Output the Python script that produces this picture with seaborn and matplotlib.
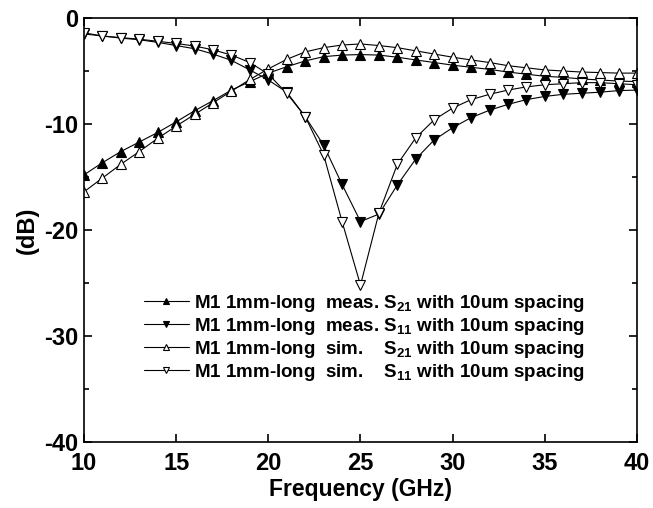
import numpy as np
import pandas as pd
import seaborn as sns
import matplotlib
matplotlib.use("Agg")
import matplotlib.pyplot as plt

# frequency points (GHz), one per GHz
freq = list(range(10, 41))

# measured S21 (dB)
meas_s21 = [-14.8, -13.65, -12.6, -11.7, -10.8, -9.8, -8.75, -7.8, -6.8, -6.0,
            -5.2, -4.6, -4.05, -3.65, -3.5, -3.45, -3.5, -3.7, -3.96, -4.2,
            -4.45, -4.65, -4.85, -5.1, -5.3, -5.5, -5.6, -5.75, -5.85, -5.95, -6.0]
# measured S11 (dB)
meas_s11 = [-1.5, -1.7, -1.9, -2.05, -2.3, -2.6, -2.9, -3.4, -4.0, -4.9,
            -5.85, -7.0, -9.3, -12.0, -15.7, -19.2, -18.5, -15.75, -13.3, -11.5,
            -10.35, -9.4, -8.7, -8.15, -7.7, -7.4, -7.2, -7.1, -7.0, -6.85, -6.8]
# simulated S21 (dB)
sim_s21 = [-16.4, -15.1, -13.8, -12.6, -11.35, -10.2, -9.1, -8.0, -6.9, -5.8,
           -4.8, -3.9, -3.2, -2.8, -2.55, -2.45, -2.6, -2.8, -3.1, -3.4,
           -3.7, -3.96, -4.2, -4.5, -4.7, -4.9, -5.0, -5.1, -5.15, -5.2, -5.2]
# simulated S11 (dB)
sim_s11 = [-1.4, -1.7, -1.85, -2.0, -2.2, -2.4, -2.65, -3.0, -3.5, -4.2,
           -5.3, -7.1, -9.3, -12.9, -19.2, -25.2, -18.4, -13.8, -11.3, -9.6,
           -8.5, -7.7, -7.2, -6.8, -6.5, -6.3, -6.2, -6.1, -6.1, -6.2, -6.3]

labels = [
    r"M1 1mm-long  meas. S$_{21}$ with 10um spacing",
    r"M1 1mm-long  meas. S$_{11}$ with 10um spacing",
    r"M1 1mm-long  sim.    S$_{21}$ with 10um spacing",
    r"M1 1mm-long  sim.    S$_{11}$ with 10um spacing",
]
series = [meas_s21, meas_s11, sim_s21, sim_s11]
markers = ["^", "v", "^", "v"]
faces = ["black", "black", "white", "white"]

sns.set_theme(style="ticks")
plt.rcParams["font.family"] = ["Liberation Sans", "DejaVu Sans"]
plt.rcParams["font.weight"] = "bold"
plt.rcParams["text.color"] = "black"
plt.rcParams["axes.labelcolor"] = "black"
plt.rcParams["axes.unicode_minus"] = False
plt.rcParams["mathtext.fontset"] = "custom"
plt.rcParams["mathtext.rm"] = "Liberation Sans:bold"
plt.rcParams["mathtext.it"] = "Liberation Sans:bold"
plt.rcParams["mathtext.bf"] = "Liberation Sans:bold"

fig = plt.figure(figsize=(6.53, 5.08), dpi=100)
ax = fig.add_axes([0.1286, 0.1299, 0.8469, 0.8347])

for vals, lab, m, fc in zip(series, labels, markers, faces):
    df = pd.DataFrame({"f": freq, "v": vals})
    sns.lineplot(data=df, x="f", y="v", ax=ax, color="black", linewidth=0.8,
                 marker=m, markersize=7.5, markerfacecolor=fc,
                 markeredgecolor="black", markeredgewidth=0.8, label=lab)

ax.set_xlim(10, 40)
ax.set_ylim(-40, 0)
ax.set_xticks([10, 15, 20, 25, 30, 35, 40])
ax.set_yticks([-40, -30, -20, -10, 0])
ax.set_yticks([-35, -25, -15, -5], minor=True)
ax.tick_params(which="both", direction="in", top=True, right=True, width=1.2,
               labelsize=17, colors="black")
ax.tick_params(which="major", length=6)
ax.tick_params(which="minor", length=3.5)
ax.tick_params(axis="x", pad=7)
ax.tick_params(axis="y", pad=4)
for s in ax.spines.values():
    s.set_linewidth(1.2)
    s.set_color("black")
for t in ax.get_xticklabels() + ax.get_yticklabels():
    t.set_fontweight("bold")

ax.set_xlabel("Frequency (GHz)", fontsize=16.5, fontweight="bold", labelpad=2)
ax.set_ylabel("(dB)", fontsize=17, fontweight="bold", labelpad=4)

leg = ax.legend(loc="center", bbox_to_anchor=(0.507, 0.246), frameon=False,
                fontsize=13.5, handlelength=2.4, handletextpad=0.3,
                labelspacing=0.1, markerscale=0.65, borderpad=0)
for t in leg.get_texts():
    t.set_fontweight("bold")
    t.set_color("black")

fig.savefig("out.png", dpi=100)
plt.close(fig)
